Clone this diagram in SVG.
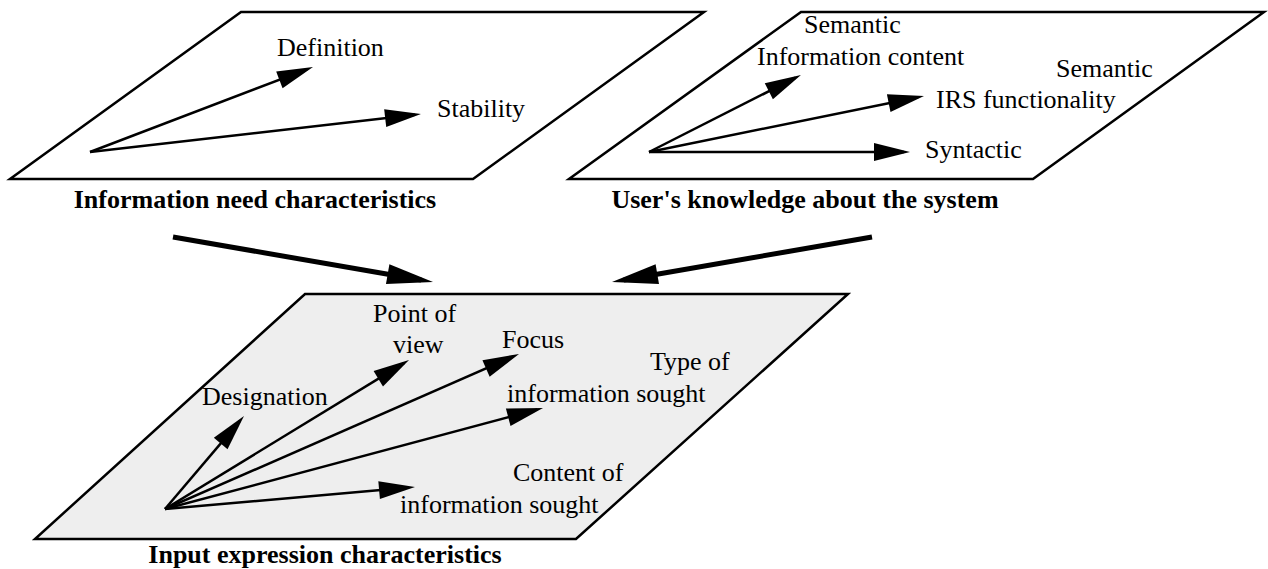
<svg xmlns="http://www.w3.org/2000/svg" width="1268" height="569" viewBox="0 0 1268 569">
<style>
  .plane { fill: #ffffff; stroke: #000; stroke-width: 2.5; stroke-linejoin: miter; }
  .plane.shaded { fill: #eeeeee; }
  .vec { stroke: #000; stroke-width: 2.5; fill: none; marker-end: url(#head); }
  .big { stroke: #000; stroke-width: 5; fill: none; marker-end: url(#bighead); }
  text { font-family: 'Liberation Serif', serif; font-size: 26px; fill: #000; }
  .title { font-weight: bold; text-anchor: middle; }
</style>
<defs>
  <marker id="head" markerUnits="userSpaceOnUse" markerWidth="36" markerHeight="18" refX="30" refY="9" orient="auto" overflow="visible">
    <path d="M0,0 L36,9 L0,18 Z" fill="#000"/>
  </marker>
  <marker id="bighead" markerUnits="userSpaceOnUse" markerWidth="46" markerHeight="20" refX="34" refY="10" orient="auto" overflow="visible">
    <path d="M0,0 L46,10 L0,20 Z" fill="#000"/>
  </marker>
</defs>

<g id="info-need">
  <polygon class="plane" points="241,12 704,12 473,179 10,179"/>
  <line class="vec" x1="90" y1="152" x2="307.4" y2="69.1"/>
  <line class="vec" x1="90" y1="152" x2="415" y2="114.7"/>
  <text x="277" y="56">Definition</text>
  <text x="437" y="117">Stability</text>
  <text class="title" x="255" y="208">Information need characteristics</text>
</g>

<g id="user-knowledge">
  <polygon class="plane" points="801,12 1264,12 1033,179 569,179"/>
  <line class="vec" x1="649" y1="152" x2="795.6" y2="77.7"/>
  <line class="vec" x1="649" y1="152" x2="918.1" y2="97.2"/>
  <line class="vec" x1="649" y1="152" x2="904" y2="152"/>
  <text x="804" y="33">Semantic</text>
  <text x="757" y="65">Information content</text>
  <text x="1056" y="77">Semantic</text>
  <text x="936" y="108">IRS functionality</text>
  <text x="925" y="158">Syntactic</text>
  <text class="title" x="805" y="208">User's knowledge about the system</text>
</g>

<g id="input-expression">
  <polygon class="plane shaded" points="305,294 848,294 576,539 35,539"/>
  <line class="vec" x1="165" y1="509" x2="240.1" y2="420.6"/>
  <line class="vec" x1="165" y1="509" x2="403.9" y2="363.1"/>
  <line class="vec" x1="165" y1="509" x2="513.5" y2="356.4"/>
  <line class="vec" x1="165" y1="509" x2="537.2" y2="409.5"/>
  <line class="vec" x1="165" y1="509" x2="409" y2="487.5"/>
  <text x="373" y="322">Point of</text>
  <text x="393" y="353">view</text>
  <text x="502" y="348">Focus</text>
  <text x="650" y="370">Type of</text>
  <text x="507" y="402">information sought</text>
  <text x="202" y="405">Designation</text>
  <text x="513" y="481">Content of</text>
  <text x="400" y="513">information sought</text>
  <text class="title" x="325" y="563">Input expression characteristics</text>
</g>

<g id="connectors">
  <line class="big" x1="173" y1="237" x2="421.2" y2="280"/>
  <line class="big" x1="872" y1="237" x2="623.8" y2="280"/>
</g>
</svg>
